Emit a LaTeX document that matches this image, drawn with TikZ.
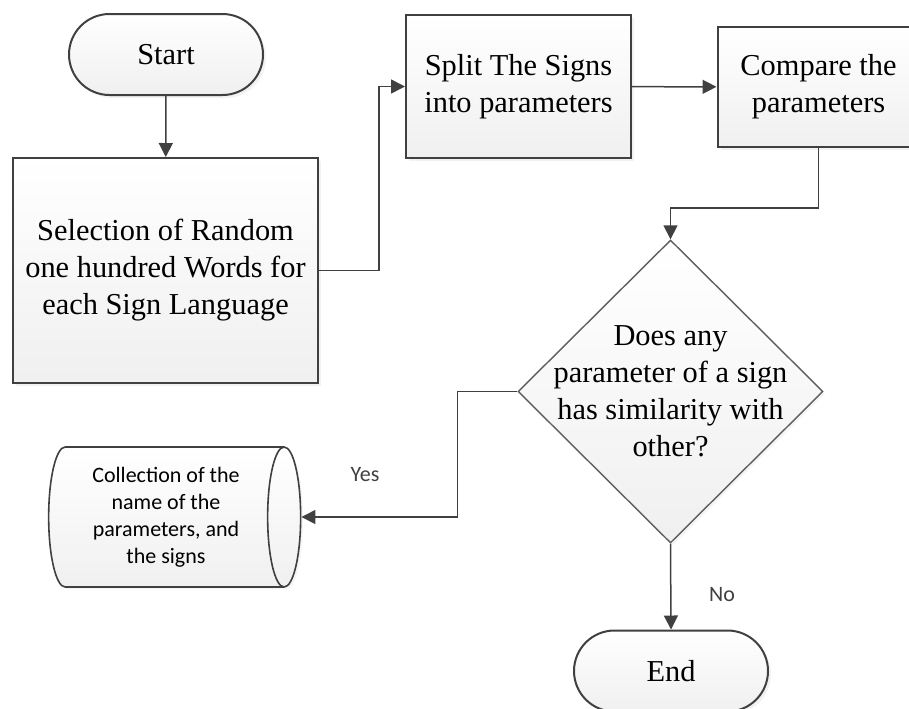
\documentclass[tikz,border=0pt]{standalone}
\usepackage{fontspec}
\setmainfont{Liberation Serif}
\newfontfamily\calibri{Carlito}
\usetikzlibrary{arrows.meta, positioning, shapes.geometric, shapes.misc, shadows}

\definecolor{edgegray}{HTML}{404040}

\begin{document}
\begin{tikzpicture}[
    x=0.5pt, y=-0.5pt,
    box/.style={draw=edgegray, line width=1pt, top color=white, bottom color=black!6,
        drop shadow={shadow xshift=1.5pt, shadow yshift=-1.5pt, fill=black!10},
        font=\fontsize{15.2}{18.5}\selectfont, align=center, inner sep=2pt},
    term/.style={box, rounded rectangle, minimum width=101pt, minimum height=40.5pt},
    decision/.style={diamond, draw=edgegray!85, line width=0.7pt, top color=white,
        bottom color=black!6, minimum width=152.5pt, minimum height=151.5pt, inner sep=0pt,
        drop shadow={shadow xshift=1.2pt, shadow yshift=-1.2pt, fill=black!8}},
    store/.style={cylinder, draw=edgegray, line width=0.8pt, top color=white,
        bottom color=black!6, shape aspect=0.33, minimum width=70pt, minimum height=126pt,
        drop shadow={shadow xshift=1.2pt, shadow yshift=-1.2pt, fill=black!8},
        font=\calibri\fontsize{11}{13.5}\selectfont, align=center, inner sep=0pt},
    arr/.style={-{Triangle[length=7pt, width=7pt]}, draw=edgegray, line width=0.75pt},
    lbl/.style={font=\calibri\fontsize{11}{13}\selectfont, text=edgegray},
]
    \useasboundingbox (0,0) rectangle (909,708);
    \clip (0,0) rectangle (909,708);

    \node[term] (start) at (166,54.5) {Start};
    \node[box, minimum width=152.5pt, minimum height=112.5pt] (sel) at (165.5,270.5)
        {Selection of Random\\one hundred Words for\\each Sign Language};
    \node[box, minimum width=112.5pt, minimum height=71.5pt] (split) at (518.5,86.5)
        {Split The Signs\\into parameters};
    \node[box, minimum width=101pt, minimum height=60pt] (cmp) at (818.5,87)
        {Compare the\\parameters};
    \node[decision] (dec) at (670.5,391.5) {};
    \node[font=\fontsize{15.2}{18.5}\selectfont, align=center] (dectxt) at (dec)
        {Does any\\parameter of a sign\\has similarity with\\other?};
    \node[store] (coll) at (166,517)
        {Collection of the\\name of the\\parameters, and\\the signs};
    \node[term] (stop) at (671,671) {End};

    \node[lbl] (yes) at (365,475) {Yes};
    \node[lbl] (no) at (722,595) {No};

    \draw[arr] (start) -- (sel);
    \draw[arr] (sel.east) -- ++(60,0) |- (split.west);
    \draw[arr] (split) -- (cmp);
    \draw[arr] (cmp.south) -- ++(0,60) -| (dec.north);
    \draw[arr] (dec.west) -- ++(-60,0) |- (coll.east);
    \draw[arr] (dec.south) -- (stop.north);
\end{tikzpicture}
\end{document}
